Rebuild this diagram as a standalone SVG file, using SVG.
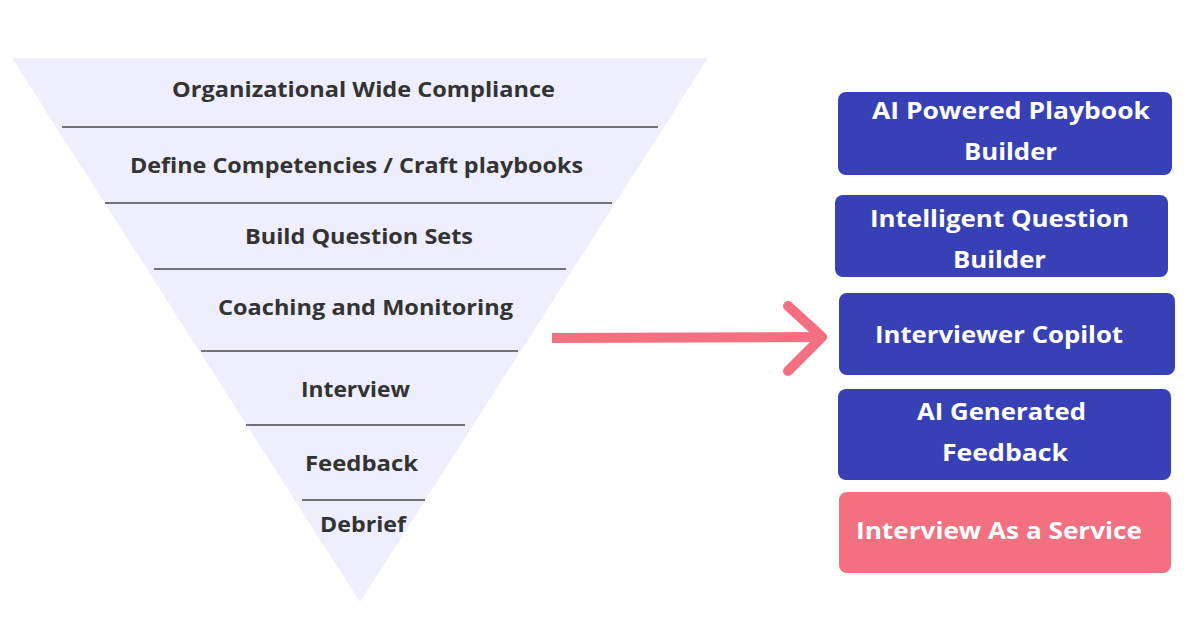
<svg xmlns="http://www.w3.org/2000/svg" width="1200" height="627" viewBox="0 0 1200 627">
<style>
.lbl{font-family:"Open Sans","Liberation Sans",sans-serif;font-weight:700;font-size:21px;fill:#333333}
.btxt{font-family:"Open Sans","Liberation Sans",sans-serif;font-weight:700;font-size:24px;fill:#ffffff}
.sep{stroke:#4a4a4a;stroke-width:1.3}
.blue{fill:#3741B5}
.pink{fill:#F2707F}
</style>
<rect width="1200" height="627" fill="#ffffff"/>
<g id="funnel">
<polygon points="12,58 708,58 360,602" fill="#EEEEFD"/>
<line class="sep" x1="62" y1="127" x2="658" y2="127"/>
<line class="sep" x1="105" y1="203" x2="612" y2="203"/>
<line class="sep" x1="154" y1="269" x2="566" y2="269"/>
<line class="sep" x1="201" y1="351" x2="518" y2="351"/>
<line class="sep" x1="246" y1="425" x2="465" y2="425"/>
<line class="sep" x1="302" y1="500" x2="425" y2="500"/>
</g>
<g id="funnel-labels">
<text class="lbl" x="172" y="97" textLength="383" lengthAdjust="spacingAndGlyphs">Organizational Wide Compliance</text>
<text class="lbl" x="130" y="173" textLength="453" lengthAdjust="spacingAndGlyphs">Define Competencies / Craft playbooks</text>
<text class="lbl" x="245" y="244" textLength="228" lengthAdjust="spacingAndGlyphs">Build Question Sets</text>
<text class="lbl" x="218" y="315" textLength="295" lengthAdjust="spacingAndGlyphs">Coaching and Monitoring</text>
<text class="lbl" x="301" y="397" textLength="109" lengthAdjust="spacingAndGlyphs">Interview</text>
<text class="lbl" x="305" y="471" textLength="113" lengthAdjust="spacingAndGlyphs">Feedback</text>
<text class="lbl" x="320" y="532" textLength="86" lengthAdjust="spacingAndGlyphs">Debrief</text>
</g>
<g id="connectors">
<line x1="552" y1="338" x2="822" y2="337" stroke="#F2707F" stroke-width="10"/>
<polyline points="788,306 822,337 788,371" fill="none" stroke="#F2707F" stroke-width="10" stroke-linecap="round" stroke-linejoin="round"/>
</g>
<g id="node-playbook">
<rect class="blue" x="838" y="92" width="334" height="83" rx="8"/>
<text class="btxt" x="872" y="119" textLength="278" lengthAdjust="spacingAndGlyphs">AI Powered Playbook</text>
<text class="btxt" x="964" y="160" textLength="93" lengthAdjust="spacingAndGlyphs">Builder</text>
</g>
<g id="node-question">
<rect class="blue" x="835" y="195" width="333" height="82" rx="8"/>
<text class="btxt" x="870" y="227" textLength="259" lengthAdjust="spacingAndGlyphs">Intelligent Question</text>
<text class="btxt" x="953" y="268" textLength="93" lengthAdjust="spacingAndGlyphs">Builder</text>
</g>
<g id="node-copilot">
<rect class="blue" x="839" y="293" width="336" height="82" rx="8"/>
<text class="btxt" x="875" y="343" textLength="248" lengthAdjust="spacingAndGlyphs">Interviewer Copilot</text>
</g>
<g id="node-feedback">
<rect class="blue" x="838" y="389" width="333" height="91" rx="8"/>
<text class="btxt" x="917" y="420" textLength="169" lengthAdjust="spacingAndGlyphs">AI Generated</text>
<text class="btxt" x="942" y="461" textLength="126" lengthAdjust="spacingAndGlyphs">Feedback</text>
</g>
<g id="node-service">
<rect class="pink" x="839" y="492" width="332" height="81" rx="8"/>
<text class="btxt" x="856" y="539" textLength="286" lengthAdjust="spacingAndGlyphs">Interview As a Service</text>
</g>
</svg>
